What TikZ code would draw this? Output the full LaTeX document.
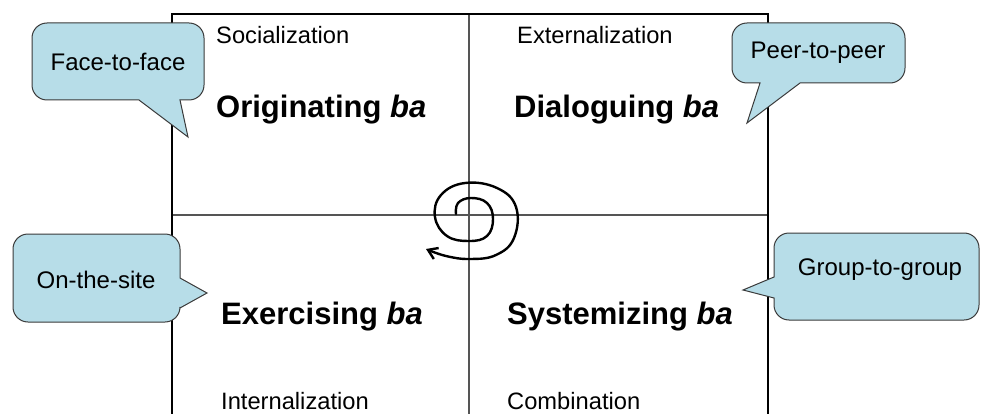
\documentclass[tikz,border=0pt]{standalone}
\usepackage{fontspec}
\setmainfont{Liberation Sans}
\usetikzlibrary{arrows.meta}
\definecolor{bubble}{HTML}{B7DDE8}
\definecolor{bubbleedge}{HTML}{3A3A3A}
\definecolor{gridline}{HTML}{555555}
\begin{document}
\begin{tikzpicture}[x=1pt,y=-1pt,
  modelabel/.style={anchor=base west,inner sep=0pt,font=\fontsize{23.7}{28}\selectfont},
  baname/.style={anchor=base west,inner sep=0pt,font=\fontsize{31}{36}\selectfont\bfseries},
  bubbletext/.style={inner sep=0pt,font=\fontsize{24}{28}\selectfont},
  bubbleshape/.style={fill=bubble,draw=bubbleedge,line width=1pt,line join=miter},
  outerline/.style={draw=black,line width=2.6pt},
  innerline/.style={draw=gridline,line width=1.4pt}]
\useasboundingbox (0,0) rectangle (981,414);
\begin{scope}
\clip (0,0) rectangle (981,414);
% quadrant grid
\draw[innerline] (469,14) -- (469,430);
\draw[innerline] (172,215) -- (768,215);
\draw[outerline] (172,430) -- (172,14) -- (768,14) -- (768,430);
\end{scope}

% quadrant texts
\node[modelabel] (soc) at (216,44) {Socialization};
\node[modelabel] (ext) at (517,44) {Externalization};
\node[baname] (orig) at (216,118) {Originating \textit{ba}};
\node[baname] (dial) at (514,118) {Dialoguing \textit{ba}};
\node[baname] (exer) at (221,324) {Exercising \textit{ba}};
\node[baname] (syst) at (507,324) {Systemizing \textit{ba}};
\node[modelabel] (inte) at (221,409) {Internalization};
\node[modelabel] (comb) at (507,409) {Combination};

% spiral with arrow
\draw[line width=2.4pt,line cap=round,-{Straight Barb[length=9pt,width=12pt]}]
  plot[smooth,tension=0.7] coordinates {
  (456,214) (458,203) (471,198) (487,203) (493,219) (487,236) (469,241)
  (447,236) (435,217) (441,195) (465,183) (497,188) (516,207) (514,238)
  (496,255) (470,259) (446,256) (426,249)};

% speech bubbles: rounded body, sharp tail
\draw[bubbleshape] (120,23) [rounded corners=15] -- (204,23) -- (204,100) [sharp corners] -- (180,100)
  -- (188,137) -- (139,100) [rounded corners=15] -- (32,100) -- (32,23) -- cycle;
\node[bubbletext] (f2f) at (118,62) {Face-to-face};

\draw[bubbleshape] (820,23) [rounded corners=15] -- (905,23) -- (905,83) [sharp corners] -- (800,83)
  -- (747,123) -- (760,83) [rounded corners=15] -- (732,83) -- (732,23) -- cycle;
\node[bubbletext] (p2p) at (818,53) {Peer-to-peer};

\draw[bubbleshape] (96,234) [rounded corners=15] -- (180,234) [sharp corners] -- (180,278)
  -- (207,293) -- (180,308) [rounded corners=15] -- (180,322) -- (13,322) -- (13,234) -- cycle;
\node[bubbletext] (site) at (96,280) {On-the-site};

\draw[bubbleshape] (876,233) [rounded corners=15] -- (979,233) -- (979,320) -- (774,320) [sharp corners] -- (774,298)
  -- (743,290) -- (774,277) [rounded corners=15] -- (774,233) -- cycle;
\node[bubbletext] (g2g) at (880,270) {Group-to-group};
\end{tikzpicture}
\end{document}
